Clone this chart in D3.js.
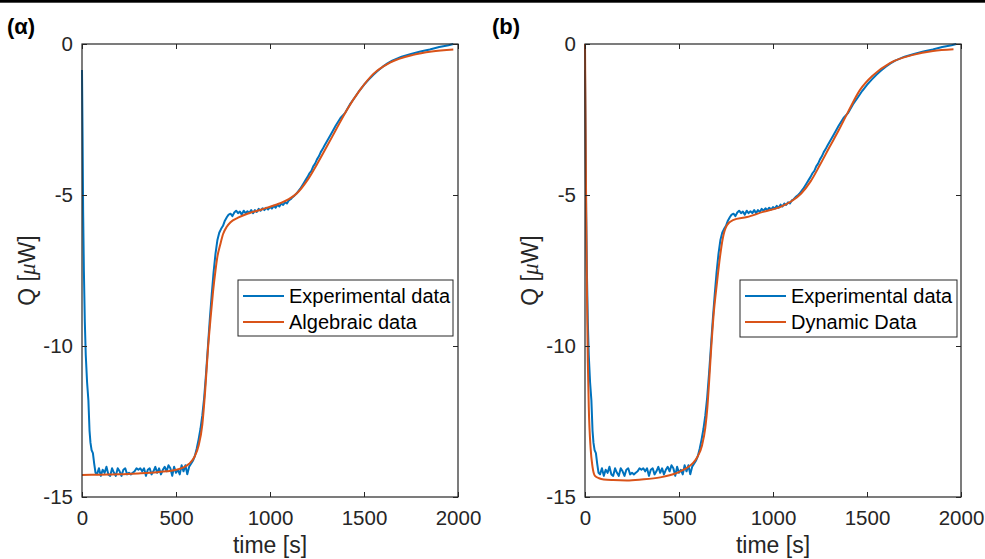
<!DOCTYPE html>
<html><head><meta charset="utf-8">
<script src="https://cdn.jsdelivr.net/npm/d3@7"></script>
<style>
body{margin:0;background:#fff;}
svg{display:block;font-family:"Liberation Sans",Arial,sans-serif;}
</style></head><body>
<svg id="chart" width="985" height="559"></svg>
<script>
// ---- data ----
const panelLabels = ["(α)", "(b)"];
const legendNames = [["Experimental data", "Algebraic data"], ["Experimental data", "Dynamic Data"]];
const xTicks = [0, 500, 1000, 1500, 2000];
const yTicks = [0, -5, -10, -15];
const xLabel = "time [s]";

const timeExp = [0,3,6,10,15,20,27,34,40,45,51,58,65,72,80,
 90,100,110,120,130,140,150,160,170,180,190,200,210,220,230,240,250,260,270,280,290,300,
 310,320,330,340,350,360,370,380,390,400,410,420,430,440,450,460,470,480,490,500,510,520,
 530,540,550,560,570,580,590,600,610,620,630,640,650,660,670,680,690,700,710,720,730,740,
 750,760,771,780,790,800,810,820,830,840,850,860,870,880,890,900,910,920,930,940,950,960,
 970,980,990,1000,1010,1020,1030,1040,1050,1060,1070,1080,1090,1100,1110,1120,1130,1140,
 1150,1160,1170,1180,1190,1200,1210,1220,1230,1240,1250,1260,1270,1280,1290,1300,1325,
 1350,1375,1400,1425,1450,1475,1500,1525,1550,1575,1600,1625,1650,1700,1750,1800,1850,
 1900,1950,1975];
const qExp = [-0.86,-3.0,-5.5,-7.5,-9.2,-10.3,-11.2,-11.8,-12.8,-13.2,-13.45,-13.55,-13.9,-14.2,-14.25,
 -14.05,-14.3,-14.1,-14.2,-14.0,-14.25,-14.3,-14.05,-14.2,-14.3,-14.05,-14.15,-14.3,-14.1,-14.05,-14.25,-14.2,-14.25,-14.2,-14.15,-14.05,-14.1,
 -14.05,-14.15,-14.05,-14.3,-14.1,-14.05,-14.25,-14.15,-14.0,-14.2,-14.05,-14.25,-14.1,-14.0,-14.15,-13.95,-14.05,-14.3,-14.0,-14.2,-14.1,-14.25,
 -13.95,-14.15,-13.95,-14.25,-14.0,-13.9,-13.8,-13.65,-13.4,-13.1,-12.75,-12.3,-11.7,-10.9,-10.0,-9.1,-8.3,-7.55,-6.95,-6.5,-6.25,-6.12,
 -6.02,-5.85,-5.73,-5.65,-5.62,-5.7,-5.58,-5.52,-5.6,-5.55,-5.65,-5.52,-5.6,-5.54,-5.6,-5.5,-5.6,-5.5,-5.56,-5.46,-5.52,-5.44,
 -5.5,-5.42,-5.48,-5.4,-5.45,-5.36,-5.42,-5.32,-5.38,-5.28,-5.33,-5.24,-5.28,-5.18,-5.14,-5.07,-5.02,-4.96,
 -4.88,-4.8,-4.7,-4.6,-4.5,-4.4,-4.28,-4.2,-4.05,-3.96,-3.82,-3.72,-3.58,-3.48,-3.36,-3.25,-2.98,
 -2.7,-2.45,-2.28,-2.0,-1.78,-1.55,-1.35,-1.18,-1.02,-0.88,-0.75,-0.64,-0.55,-0.42,-0.33,-0.25,-0.18,
 -0.1,-0.04,0.0];

const timeAlg = [0,100,200,300,400,450,500,540,570,600,620,640,655,670,685,697,710,720,735,750,770,790,830,880,960,1050,1100,1150,1200,1250,1300,1350,1408,1479,1550,1638,1762,1860,1975];
const qAlg = [-14.27,-14.26,-14.25,-14.22,-14.18,-14.15,-14.1,-14.02,-13.9,-13.65,-13.3,-12.6,-11.5,-10.1,-9.0,-8.2,-7.5,-7.05,-6.65,-6.3,-6.05,-5.9,-5.75,-5.62,-5.47,-5.28,-5.14,-4.9,-4.5,-3.98,-3.42,-2.85,-2.19,-1.52,-0.99,-0.62,-0.36,-0.25,-0.18];

const timeDyn = [0,5,10,15,20,30,40,53,75,100,150,223,300,400,450,490,530,574,600,622,640,650,660,670,685,702,718,734,755,787,862,947,1037,1100,1150,1200,1250,1300,1350,1400,1463,1533,1622,1745,1851,1960];
const qDyn = [0,-4.5,-8.0,-10.5,-12.0,-13.4,-14.0,-14.3,-14.38,-14.42,-14.44,-14.45,-14.42,-14.35,-14.28,-14.2,-14.08,-13.88,-13.65,-13.3,-12.7,-12.1,-11.2,-10.2,-8.9,-7.9,-7.05,-6.4,-6.0,-5.83,-5.73,-5.56,-5.4,-5.2,-4.95,-4.55,-4.0,-3.42,-2.85,-2.24,-1.52,-1.03,-0.63,-0.36,-0.23,-0.17];

// ---- drawing ----
const svg = d3.select("#chart");
const W = 985, H = 559;
const blue = "#0072BD", orange = "#D95319", axisCol = "#262626";
const fmt = d => String(d);

svg.append("rect").attr("x",0).attr("y",0).attr("width",W).attr("height",2.7).attr("fill","#000");

const panels = [
  {x0:82, x1:458, lx:7, legend:{x:238,y:280,w:215,h:56}, model:[timeAlg,qAlg]},
  {x0:585, x1:961, lx:492, legend:{x:740,y:280,w:217,h:57}, model:[timeDyn,qDyn]}
];
const yTop = 44, yBot = 497;

panels.forEach((p, i) => {
  const x = d3.scaleLinear().domain([0,2000]).range([p.x0,p.x1]);
  const y = d3.scaleLinear().domain([-15,0]).range([yBot,yTop]);
  const g = svg.append("g");

  // panel label
  g.append("text").attr("x",p.lx).attr("y",34).attr("font-size",22).attr("font-weight","bold")
    .attr("fill","#000").text(panelLabels[i]);

  // data lines
  const clipId = "clip"+i;
  svg.append("clipPath").attr("id",clipId).append("rect")
    .attr("x",p.x0-1).attr("y",yTop-1).attr("width",p.x1-p.x0+2).attr("height",yBot-yTop+2);
  const lineExp = d3.line().x((d,k)=>x(timeExp[k])).y(d=>y(d));
  g.append("path").datum(qExp).attr("clip-path",`url(#${clipId})`).attr("d",lineExp)
    .attr("fill","none").attr("stroke",blue).attr("stroke-width",2).attr("stroke-linejoin","round");
  const [tm,qm] = p.model;
  const lineMod = d3.line().curve(d3.curveMonotoneX).x((d,k)=>x(tm[k])).y(d=>y(d));
  g.append("path").datum(qm).attr("clip-path",`url(#${clipId})`).attr("d",lineMod)
    .attr("fill","none").attr("stroke",orange).attr("stroke-width",2).attr("stroke-linejoin","round");

  // axes
  const ax = (sel) => { sel.select(".domain").remove(); sel.selectAll("line").attr("stroke",axisCol); sel.selectAll("text").attr("fill",axisCol).attr("font-size",20.5).attr("font-family","'Liberation Sans',Arial,sans-serif"); };
  g.append("g").attr("transform",`translate(0,${yBot})`)
    .call(d3.axisBottom(x).tickValues(xTicks).tickSizeInner(-5).tickSizeOuter(0).tickPadding(13).tickFormat(fmt))
    .call(ax);
  g.append("g").attr("transform",`translate(0,${yTop})`)
    .call(d3.axisTop(x).tickValues(xTicks).tickSizeInner(-5).tickSizeOuter(0).tickFormat(""))
    .call(ax);
  g.append("g").attr("transform",`translate(${p.x0},0)`)
    .call(d3.axisLeft(y).tickValues(yTicks).tickSizeInner(-5).tickSizeOuter(0).tickPadding(9).tickFormat(fmt))
    .call(ax);
  g.append("g").attr("transform",`translate(${p.x1},0)`)
    .call(d3.axisRight(y).tickValues(yTicks).tickSizeInner(-5).tickSizeOuter(0).tickFormat(""))
    .call(ax);
  g.append("rect").attr("x",p.x0).attr("y",yTop).attr("width",p.x1-p.x0).attr("height",yBot-yTop)
    .attr("fill","none").attr("stroke",axisCol).attr("stroke-width",1.2);

  // axis labels
  g.append("text").attr("x",(p.x0+p.x1)/2).attr("y",553).attr("text-anchor","middle")
    .attr("font-size",23).attr("fill",axisCol).text(xLabel);
  const yl = g.append("text").attr("transform",`translate(${p.x0-47},${(yTop+yBot)/2}) rotate(-90)`)
    .attr("text-anchor","middle").attr("font-size",23).attr("fill",axisCol);
  yl.append("tspan").text("Q [");
  yl.append("tspan").attr("font-style","italic").attr("font-family","'Liberation Serif','Times New Roman',serif").text("μ");
  yl.append("tspan").text("W]");

  // legend
  const L = p.legend;
  const lg = g.append("g");
  lg.append("rect").attr("x",L.x).attr("y",L.y).attr("width",L.w).attr("height",L.h)
    .attr("fill","#fff").attr("stroke",axisCol).attr("stroke-width",1);
  [blue, orange].forEach((c, k) => {
    const cy = L.y + 16 + k*26;
    lg.append("line").attr("x1",L.x+5).attr("x2",L.x+46).attr("y1",cy).attr("y2",cy)
      .attr("stroke",c).attr("stroke-width",2);
    lg.append("text").attr("x",L.x+51).attr("y",cy+7).attr("font-size",20).attr("fill","#000")
      .text(legendNames[i][k]);
  });
});
</script></body></html>
